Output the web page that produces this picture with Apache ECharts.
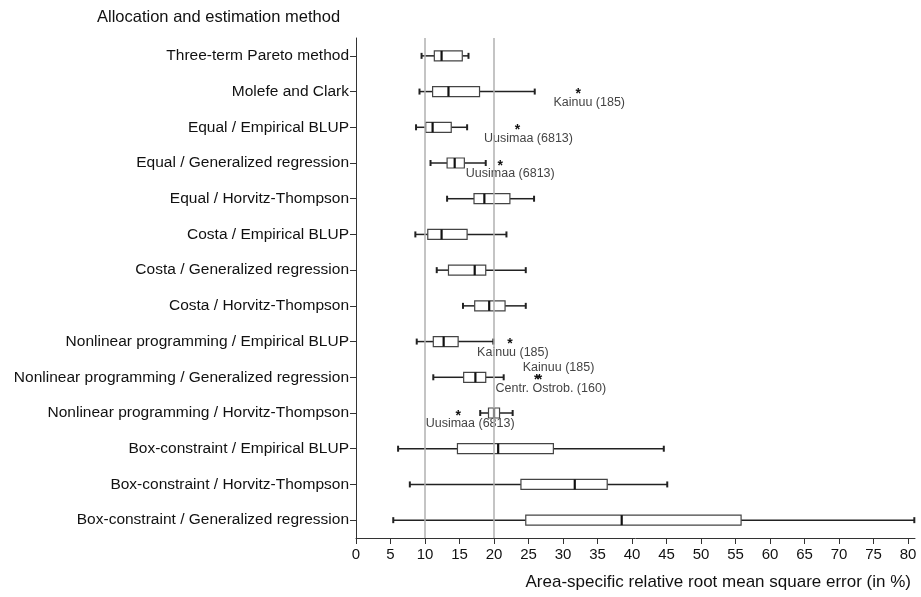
<!DOCTYPE html>
<html>
<head>
<meta charset="utf-8">
<script src="https://cdn.jsdelivr.net/npm/echarts@6/dist/echarts.min.js"></script>
<style>html,body{margin:0;padding:0;background:#fff}#c{width:921px;height:597px}</style>
</head>
<body>
<div id="c"></div>
<script>
const categories = [
  'Three-term Pareto method',
  'Molefe and Clark',
  'Equal / Empirical BLUP',
  'Equal / Generalized regression',
  'Equal / Horvitz-Thompson',
  'Costa / Empirical BLUP',
  'Costa / Generalized regression',
  'Costa / Horvitz-Thompson',
  'Nonlinear programming / Empirical BLUP',
  'Nonlinear programming / Generalized regression',
  'Nonlinear programming / Horvitz-Thompson',
  'Box-constraint / Empirical BLUP',
  'Box-constraint / Horvitz-Thompson',
  'Box-constraint / Generalized regression'
];
const whiskerLow  = [9.5, 9.2, 8.7, 10.8, 13.2, 8.6, 11.7, 15.5, 8.8, 11.2, 18.0, 6.1, 7.8, 5.4];
const quartile1   = [11.35, 11.1, 10.1, 13.2, 17.1, 10.4, 13.4, 17.2, 11.2, 15.6, 19.2, 14.7, 23.9, 24.6];
const medians     = [12.4, 13.4, 11.1, 14.3, 18.6, 12.4, 17.2, 19.3, 12.7, 17.3, 20.0, 20.6, 31.7, 38.5];
const quartile3   = [15.4, 17.9, 13.8, 15.7, 22.3, 16.1, 18.8, 21.6, 14.8, 18.8, 20.8, 28.6, 36.4, 55.8];
const whiskerHigh = [16.3, 25.9, 16.1, 18.8, 25.8, 21.8, 24.6, 24.6, 19.9, 21.4, 22.7, 44.6, 45.1, 80.9];

const outlierCategory = [1, 2, 3, 8, 9, 9, 10];
const outlierValue    = [32.2, 23.4, 20.9, 22.3, 26.6, 26.2, 14.8];
const outlierLabel    = ['Kainuu (185)', 'Uusimaa (6813)', 'Uusimaa (6813)', 'Kainuu (185)', 'Kainuu (185)', 'Centr. Ostrob. (160)', 'Uusimaa (6813)'];

const referenceLines = [10, 20];
const xTicks = [0, 5, 10, 15, 20, 25, 30, 35, 40, 45, 50, 55, 60, 65, 70, 75, 80];

// label placement (style only)
const outlierLabelOffset = [[11, 11], [11, 11], [10, 11], [3, 11], [19, -10], [14, 11], [12, 11]];

const boxData = categories.map((c, i) => [i, whiskerLow[i], quartile1[i], medians[i], quartile3[i], whiskerHigh[i]]);
const outData = outlierValue.map((v, i) => [outlierCategory[i], v, i]);

const FONT = 'Liberation Sans, Arial, sans-serif';
const chart = echarts.init(document.getElementById('c'), null, {renderer: 'canvas'});

chart.setOption({
  animation: false,
  backgroundColor: '#fff',
  grid: {left: 356, top: 38, width: 559, height: 500},
  xAxis: {
    type: 'value', min: 0, max: 81,
    axisLine: {show: true, lineStyle: {color: '#333', width: 1}},
    axisTick: {show: true, length: 6, lineStyle: {color: '#333'}, customValues: xTicks},
    axisLabel: {color: '#111', fontSize: 15, fontFamily: FONT, margin: 9, customValues: xTicks},
    splitLine: {show: false}
  },
  yAxis: {
    type: 'category', data: categories, inverse: true,
    axisLine: {show: true, lineStyle: {color: '#333', width: 1}},
    axisTick: {show: true, length: 6, alignWithLabel: true, lineStyle: {color: '#333'}},
    axisLabel: {color: '#111', fontSize: 15.5, fontFamily: FONT, margin: 7},
    splitLine: {show: false}
  },
  graphic: [
    {type: 'text', left: 97, top: 9, style: {text: 'Allocation and estimation method', fontSize: 16.5, fontFamily: FONT, fill: '#111'}},
    {type: 'text', right: 10, top: 574, style: {text: 'Area-specific relative root mean square error (in %)', fontSize: 17, fontFamily: FONT, fill: '#111'}}
  ],
  series: [
    {
      type: 'custom',
      data: boxData,
      encode: {x: [1, 2, 3, 4, 5], y: 0},
      markLine: {
        silent: true, symbol: 'none', label: {show: false},
        lineStyle: {color: '#b0b0b0', type: 'solid', width: 1.5},
        data: referenceLines.map(v => ({xAxis: v}))
      },
      renderItem: function (params, api) {
        const idx = api.value(0);
        const lo = api.coord([api.value(1), idx]);
        const a = api.coord([api.value(2), idx]);
        const m = api.coord([api.value(3), idx]);
        const b = api.coord([api.value(4), idx]);
        const hi = api.coord([api.value(5), idx]);
        const y = lo[1];
        const bh = 10, ch = 6;
        const ln = {stroke: '#222', lineWidth: 1.5};
        return {
          type: 'group',
          children: [
            {type: 'line', shape: {x1: lo[0], y1: y, x2: a[0], y2: y}, style: ln},
            {type: 'line', shape: {x1: b[0], y1: y, x2: hi[0], y2: y}, style: ln},
            {type: 'line', shape: {x1: lo[0], y1: y - ch / 2, x2: lo[0], y2: y + ch / 2}, style: {stroke: '#222', lineWidth: 2}},
            {type: 'line', shape: {x1: hi[0], y1: y - ch / 2, x2: hi[0], y2: y + ch / 2}, style: {stroke: '#222', lineWidth: 2}},
            {type: 'rect', shape: {x: a[0], y: y - bh / 2, width: b[0] - a[0], height: bh}, style: {fill: '#fff', stroke: '#444', lineWidth: 1.2}},
            {type: 'line', shape: {x1: m[0], y1: y - bh / 2, x2: m[0], y2: y + bh / 2}, style: {stroke: '#111', lineWidth: 2.2}}
          ]
        };
      }
    },
    {
      type: 'custom',
      data: outData,
      encode: {x: 1, y: 0},
      renderItem: function (params, api) {
        const idx = api.value(0);
        const k = api.value(2);
        const p = api.coord([api.value(1), idx]);
        const off = outlierLabelOffset[k];
        return {
          type: 'group',
          children: [
            {type: 'text', x: p[0], y: p[1] + 3, style: {text: '*', fontSize: 14, fontWeight: 'bold', fontFamily: FONT, fill: '#111', align: 'center', verticalAlign: 'middle'}},
            {type: 'text', x: p[0] + off[0], y: p[1] + off[1], style: {text: outlierLabel[k], fontSize: 12.5, fontFamily: FONT, fill: '#444', align: 'center', verticalAlign: 'middle'}}
          ]
        };
      }
    }
  ]
});
</script>
</body>
</html>
